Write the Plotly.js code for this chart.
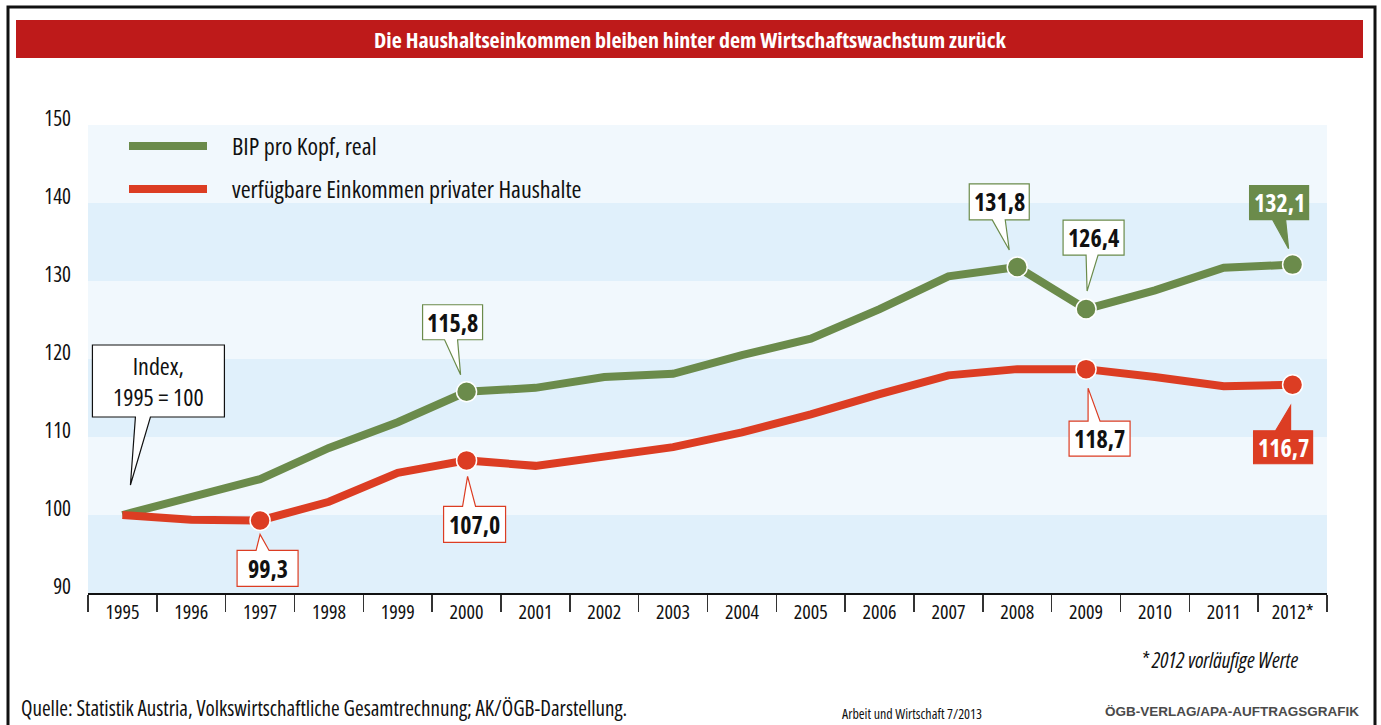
<!DOCTYPE html>
<html>
<head>
<meta charset="utf-8">
<script src="https://cdn.plot.ly/plotly-3.0.1.min.js"></script>
<style>html,body{margin:0;padding:0;background:#fff;}#chart{width:1381px;height:725px;}
text, tspan{font-stretch:75%;}
text.nostretch, text.nostretch tspan{font-stretch:100%;}</style>
</head>
<body>
<div id="chart"></div>
<script>
// ---------- DATA ----------
const years = ['1995','1996','1997','1998','1999','2000','2001','2002','2003','2004','2005','2006','2007','2008','2009','2010','2011','2012*'];
const bip = [100, 102.4, 104.6, 108.6, 111.9, 115.8, 116.3, 117.7, 118.1, 120.5, 122.6, 126.4, 130.6, 131.8, 126.4, 128.8, 131.7, 132.1];
const einkommen = [100, 99.4, 99.3, 101.7, 105.4, 107.0, 106.3, 107.4, 108.7, 110.6, 112.9, 115.5, 117.9, 118.7, 118.7, 117.7, 116.5, 116.7];
const bipMarked = ['2000','2008','2009','2012*'];
const einkMarked = ['1997','2000','2009','2012*'];
const yTicks = [90, 100, 110, 120, 130, 140, 150];
const darkBands = [[90,100],[110,120],[130,140]];
const seriesNames = ['BIP pro Kopf, real', 'verfügbare Einkommen privater Haushalte'];
const titleText = 'Die Haushaltseinkommen bleiben hinter dem Wirtschaftswachstum zurück';
const indexNote = 'Index,<br>1995 = 100';
const sourceText = 'Quelle: Statistik Austria, Volkswirtschaftliche Gesamtrechnung; AK/ÖGB-Darstellung.';
const footnoteText = '* 2012 vorläufige Werte';
const mediaText = 'Arbeit und Wirtschaft 7/2013';
const creditText = 'ÖGB-VERLAG/APA-AUFTRAGSGRAFIK';

// ---------- STYLE ----------
const GREEN = '#6b8b4b', RED = '#dc3d23', TITLERED = '#be1a1a';
const LIGHT = '#f1f8fd', DARK = '#e0f0fb';
const NARROW = '"Open Sans", "DejaVu Sans Condensed", sans-serif';
const W = 1381, H = 725, L = 88, R = 1327, T = 125, B = 593;
const px = x => (x - L) / (R - L);
const py = y => (B - y) / (B - T);
const fmt = v => v.toFixed(1).replace('.', ',');
const idx = y => years.indexOf(y);

// callout geometry in pixel offsets relative to the data point (y up)
const callouts = [
  {series:'bip', year:'2000', l:-44, r:16, t:87, b:52, p0:-22, p1:-9, tx:-6, ty:17, filled:false},
  {series:'bip', year:'2008', l:-48, r:12, t:83, b:47, p0:-25, p1:-12, tx:-8, ty:17, filled:false},
  {series:'bip', year:'2009', l:-23, r:38, t:89, b:54, p0:0, p1:12, tx:1, ty:18, filled:false},
  {series:'bip', year:'2012*', l:-43, r:16, t:79, b:45, p0:-20, p1:-7, tx:-4, ty:16, filled:true},
  {series:'eink', year:'1997', l:-23, r:38, t:-30, b:-66, p0:-4, p1:9, tx:0, ty:-14, filled:false},
  {series:'eink', year:'2000', l:-23, r:39, t:-46, b:-82, p0:-4, p1:9, tx:1, ty:-16, filled:false},
  {series:'eink', year:'2009', l:-17, r:44, t:-52, b:-87, p0:2, p1:14, tx:2, ty:-19, filled:false},
  {series:'eink', year:'2012*', l:-39, r:20, t:-46, b:-79, p0:-17, p1:-2, tx:-2, ty:-21, filled:true}
];
const indexCallout = {l:-30, r:102, t:170, b:98, p0:13, p1:28, tx:8, ty:30};

function calloutPath(c) {
  if (c.b > 0) {
    return `M ${c.l},${c.b} L ${c.p0},${c.b} L ${c.tx},${c.ty} L ${c.p1},${c.b} L ${c.r},${c.b} L ${c.r},${c.t} L ${c.l},${c.t} Z`;
  }
  return `M ${c.l},${c.t} L ${c.p0},${c.t} L ${c.tx},${c.ty} L ${c.p1},${c.t} L ${c.r},${c.t} L ${c.r},${c.b} L ${c.l},${c.b} Z`;
}

const pick = (arr, marked) => marked.map(y => arr[idx(y)]);

const traces = [
  {x: years, y: bip, type:'scatter', mode:'lines', name: seriesNames[0],
   line:{color:GREEN, width:8}, showlegend:false},
  {x: years, y: einkommen, type:'scatter', mode:'lines', name: seriesNames[1],
   line:{color:RED, width:8}, showlegend:false},
  {x: bipMarked, y: pick(bip, bipMarked), type:'scatter', mode:'markers', name: seriesNames[0],
   marker:{color:GREEN, size:20, line:{color:'#ffffff', width:1.5}}, showlegend:false},
  {x: einkMarked, y: pick(einkommen, einkMarked), type:'scatter', mode:'markers', name: seriesNames[1],
   marker:{color:RED, size:20, line:{color:'#ffffff', width:1.5}}, showlegend:false}
];

const shapes = [];
darkBands.forEach(b => shapes.push({type:'rect', xref:'paper', yref:'y', x0:0, x1:1, y0:b[0], y1:b[1],
  fillcolor:DARK, line:{width:0}, layer:'below'}));
shapes.push({type:'rect', xref:'paper', yref:'paper', x0:px(16), x1:px(1363), y0:py(58), y1:py(20),
  fillcolor:TITLERED, line:{width:0}, layer:'above'});
shapes.push({type:'rect', xref:'paper', yref:'paper', x0:px(8), x1:px(1375), y0:py(760), y1:py(7),
  fillcolor:'rgba(0,0,0,0)', line:{color:'#111', width:3}, layer:'above'});
shapes.push({type:'line', xref:'paper', yref:'paper', x0:px(129), x1:px(207), y0:py(146), y1:py(146), line:{color:GREEN, width:8}});
shapes.push({type:'line', xref:'paper', yref:'paper', x0:px(129), x1:px(207), y0:py(189), y1:py(189), line:{color:RED, width:8}});

const annotations = [];
callouts.forEach(c => {
  const arr = c.series === 'bip' ? bip : einkommen;
  const col = c.series === 'bip' ? GREEN : RED;
  const i = idx(c.year);
  const v = arr[i];
  shapes.push({type:'path', xref:'x', yref:'y', xsizemode:'pixel', ysizemode:'pixel',
    xanchor:i, yanchor:v, path:calloutPath(c), fillcolor: c.filled ? col : '#ffffff',
    line:{color:col, width:1.2}, layer:'above'});
  annotations.push({x:i, y:v, xref:'x', yref:'y', showarrow:false,
    xshift:(c.l + c.r) / 2, yshift:(c.t + c.b) / 2, text:fmt(v),
    font:{family:NARROW, size:24, color: c.filled ? '#ffffff' : '#111111', weight:'bold'}});
});
shapes.push({type:'path', xref:'x', yref:'y', xsizemode:'pixel', ysizemode:'pixel',
  xanchor:0, yanchor:bip[0], path:calloutPath(indexCallout), fillcolor:'#ffffff',
  line:{color:'#111', width:1.2}, layer:'above'});
annotations.push({x:0, y:bip[0], xref:'x', yref:'y', showarrow:false,
  xshift:(indexCallout.l + indexCallout.r) / 2, yshift:(indexCallout.t + indexCallout.b) / 2,
  text:indexNote, font:{family:NARROW, size:24, color:'#111'}});

annotations.push({xref:'paper', yref:'paper', x:px(230), y:py(146), xanchor:'left', yanchor:'middle', showarrow:false,
  text:seriesNames[0], font:{family:NARROW, size:24, color:'#111'}});
annotations.push({xref:'paper', yref:'paper', x:px(230), y:py(189), xanchor:'left', yanchor:'middle', showarrow:false,
  text:seriesNames[1], font:{family:NARROW, size:24, color:'#111'}});
annotations.push({xref:'paper', yref:'paper', x:px(690), y:py(39), xanchor:'center', yanchor:'middle', showarrow:false,
  text:titleText, font:{family:NARROW, size:22, color:'#ffffff', weight:'bold'}});
annotations.push({xref:'paper', yref:'paper', x:px(1300), y:py(660), xanchor:'right', yanchor:'middle', showarrow:false,
  text:'<i>' + footnoteText + '</i>', font:{family:NARROW, size:21, color:'#111'}});
annotations.push({xref:'paper', yref:'paper', x:px(19), y:py(708), xanchor:'left', yanchor:'middle', showarrow:false,
  text:sourceText, font:{family:NARROW, size:21, color:'#111'}});
annotations.push({xref:'paper', yref:'paper', x:px(912), y:py(713), xanchor:'center', yanchor:'middle', showarrow:false,
  text:mediaText, font:{family:NARROW, size:14, color:'#111'}});
annotations.push({xref:'paper', yref:'paper', x:px(1361), y:py(711), xanchor:'right', yanchor:'middle', showarrow:false,
  text:creditText, font:{family:'"Liberation Sans", Arial, sans-serif', size:13.5, color:'#4a4a4a', weight:'bold'}});

const layout = {
  width:W, height:H,
  margin:{l:L, r:W - R, t:T, b:H - B},
  paper_bgcolor:'#ffffff', plot_bgcolor:LIGHT,
  showlegend:false,
  xaxis:{type:'category', range:[-0.5, years.length - 0.5], tickson:'boundaries', ticks:'outside', ticklen:17,
    tickwidth:1.5, tickcolor:'#333', showline:true, linecolor:'#111', linewidth:2, showgrid:false, zeroline:false,
    tickfont:{family:NARROW, size:20, color:'#111'}, fixedrange:true},
  yaxis:{range:[90,150], tickvals:yTicks, ticks:'', showline:false, showgrid:false, zeroline:false,
    ticklabelstandoff:16, ticklabelshift:-6, tickfont:{family:NARROW, size:21, color:'#111'}, fixedrange:true},
  shapes, annotations
};

Plotly.newPlot('chart', traces, layout, {displayModeBar:false, staticPlot:true});
</script>
</body>
</html>
